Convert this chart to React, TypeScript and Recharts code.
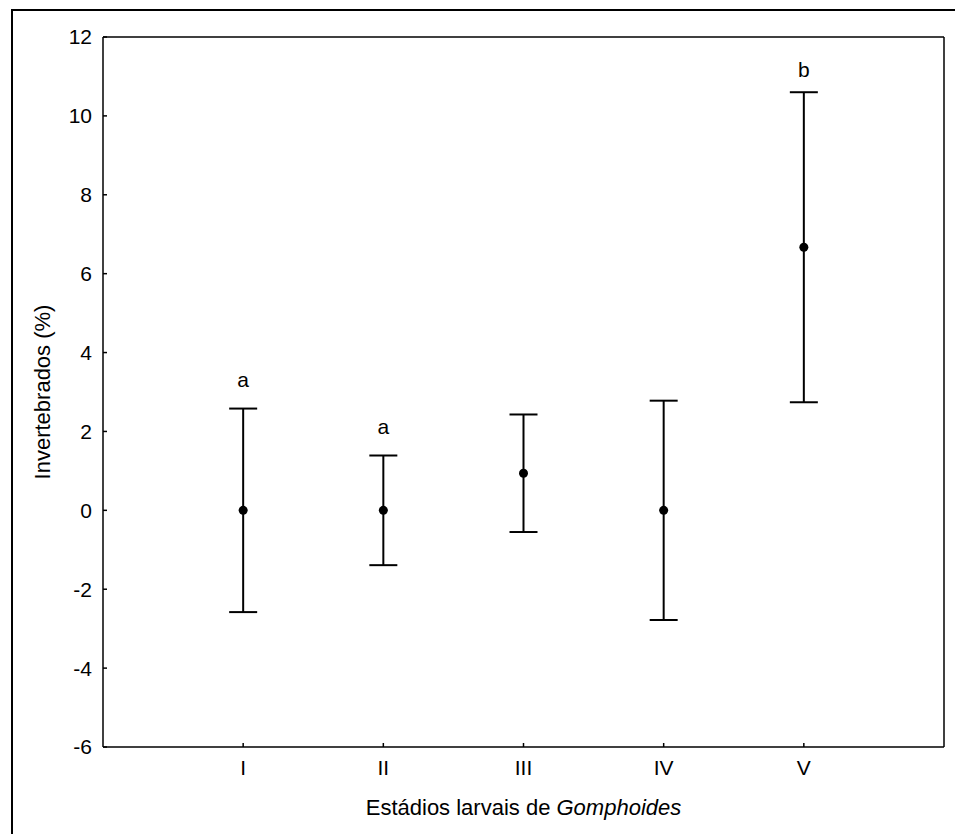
import React from 'react';
import {
  ScatterChart,
  Scatter,
  ErrorBar,
  XAxis,
  YAxis,
  ReferenceDot,
  Label,
} from 'recharts';

// Larval stages and their summary statistics (mean ± interval)
const stageLabels = ['I', 'II', 'III', 'IV', 'V'];
const stagePositions = [1, 2, 3, 4, 5];
const means = [0, 0, 0.94, 0, 6.67];
const halfIntervals = [2.58, 1.39, 1.49, 2.78, 3.93];
const groupLetters = ['a', 'a', '', '', 'b'];
const yTicks = [-6, -4, -2, 0, 2, 4, 6, 8, 10, 12];

const FONT = 'Arial, "Liberation Sans", sans-serif';

const points = stagePositions.map((x, i) => ({
  x,
  y: means[i],
  err: halfIntervals[i],
}));

const romanTick = (v: number) => stageLabels[stagePositions.indexOf(v)] ?? '';
const blankTick = () => '';

const Dot = (props: any) => (
  <circle cx={props.cx} cy={props.cy} r={4.5} fill="#000" />
);

const XTitle = (props: any) => {
  const vb = props.viewBox;
  return (
    <text
      x={vb.x + vb.width / 2}
      y={vb.y + 68}
      textAnchor="middle"
      fontSize={22}
      fontFamily={FONT}
      fill="#000"
    >
      Estádios larvais de <tspan fontStyle="italic">Gomphoides</tspan>
    </text>
  );
};

const YTitle = (props: any) => {
  const vb = props.viewBox;
  const bx = vb.x + 7;
  const cy = vb.y + vb.height / 2;
  return (
    <text
      x={bx}
      y={cy}
      transform={`rotate(-90, ${bx}, ${cy})`}
      textAnchor="middle"
      fontSize={22}
      fontFamily={FONT}
      fill="#000"
    >
      Invertebrados (%)
    </text>
  );
};

const axisLine = { stroke: '#000', strokeWidth: 1.5 };
const tickLine = { stroke: '#000', strokeWidth: 1.5 };
const tickText = { fill: '#000', fontSize: 21, fontFamily: FONT };

export default function App() {
  return (
    <div
      style={{
        position: 'absolute',
        left: 0,
        top: 0,
        width: 955,
        height: 834,
        overflow: 'hidden',
        background: '#fff',
      }}
    >
      <div
        style={{
          position: 'absolute',
          left: 11,
          top: 9,
          width: 960,
          height: 840,
          borderLeft: '2px solid #000',
          borderTop: '2px solid #000',
          boxSizing: 'border-box',
        }}
      />
      <div style={{ position: 'absolute', left: 0, top: 0 }}>
        <ScatterChart
          width={955}
          height={834}
          margin={{ top: 0, right: 0, bottom: 0, left: 43 }}
        >
          <XAxis
            xAxisId="b"
            dataKey="x"
            type="number"
            orientation="bottom"
            domain={[0, 6]}
            ticks={stagePositions}
            interval={0}
            height={87}
            tickFormatter={romanTick}
            tickSize={-4}
            tickMargin={17}
            axisLine={axisLine}
            tickLine={tickLine}
            tick={tickText}
          >
            <Label content={XTitle} />
          </XAxis>
          <XAxis
            xAxisId="t"
            dataKey="x"
            type="number"
            orientation="top"
            domain={[0, 6]}
            ticks={stagePositions}
            interval={0}
            height={37}
            tickFormatter={blankTick}
            tickSize={-4}
            axisLine={axisLine}
            tickLine={tickLine}
          />
          <YAxis
            yAxisId="l"
            dataKey="y"
            type="number"
            orientation="left"
            domain={[-6, 12]}
            ticks={yTicks}
            interval={0}
            width={60}
            tickSize={-4}
            tickMargin={15}
            axisLine={axisLine}
            tickLine={tickLine}
            tick={tickText}
          >
            <Label content={YTitle} />
          </YAxis>
          <YAxis
            yAxisId="r"
            dataKey="y"
            type="number"
            orientation="right"
            domain={[-6, 12]}
            ticks={yTicks}
            interval={0}
            width={11}
            tickFormatter={blankTick}
            tickSize={-4}
            axisLine={axisLine}
            tickLine={tickLine}
          />
          <Scatter
            data={points}
            xAxisId="b"
            yAxisId="l"
            shape={Dot}
            isAnimationActive={false}
          >
            <ErrorBar
              dataKey="err"
              direction="y"
              width={14}
              stroke="#000"
              strokeWidth={2}
              isAnimationActive={false}
            />
          </Scatter>
          {stagePositions.map((x, i) =>
            groupLetters[i] ? (
              <ReferenceDot
                key={`letter-${i}`}
                xAxisId="b"
                yAxisId="l"
                x={x}
                y={means[i] + halfIntervals[i]}
                r={0}
                fill="none"
                stroke="none"
                ifOverflow="visible"
                label={{
                  value: groupLetters[i],
                  position: 'top',
                  offset: groupLetters[i] === 'b' ? 15 : 22,
                  fill: '#000',
                  fontSize: 21,
                  fontFamily: FONT,
                }}
              />
            ) : null
          )}
        </ScatterChart>
      </div>
    </div>
  );
}
